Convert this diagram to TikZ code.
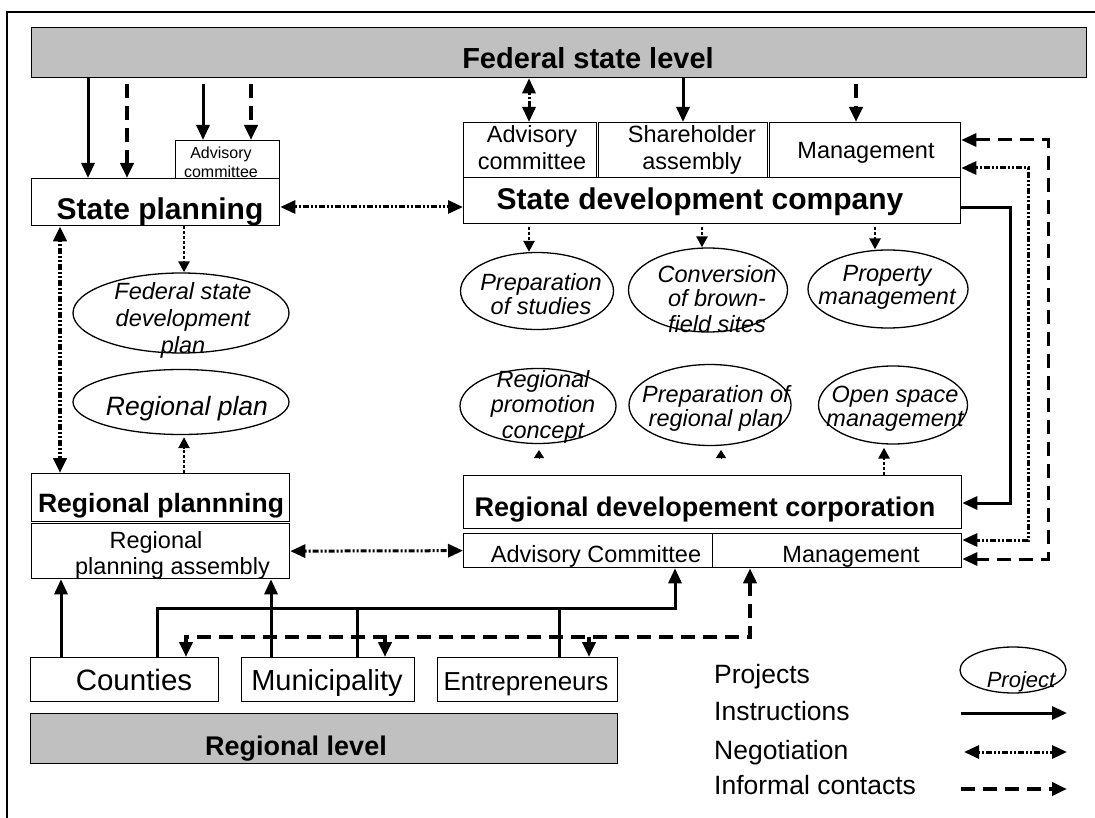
\documentclass[tikz,border=0pt]{standalone}
\usepackage{fontspec}
\setmainfont{Liberation Sans}
\usetikzlibrary{arrows.meta,shapes.geometric}
\definecolor{levelgray}{RGB}{192,192,192}

\tikzset{
  box/.style={draw,line width=1.3pt,fill=white,inner sep=0pt,anchor=north west},
  levelbar/.style={box,fill=levelgray},
  proj/.style={draw,ellipse,line width=1.3pt,inner sep=0pt},
  lbl/.style={inner sep=0pt,anchor=base,align=center},
  big/.style={lbl,font=\bfseries\fontsize{30}{34}\selectfont},
  mid/.style={lbl,font=\fontsize{23.5}{27.3}\selectfont},
  ptext/.style={lbl,font=\itshape\fontsize{23.5}{24}\selectfont},
  instr/.style={line width=3pt,->},
  nego/.style={line width=3pt,dash pattern=on 2pt off 2pt on 2pt off 2pt on 6pt off 2pt,<->},
  infor/.style={line width=4pt,dash pattern=on 14pt off 8pt,->},
  dotto/.style={line width=2.5pt,dash pattern=on 3pt off 2pt,-{Triangle[length=11pt,width=11pt]}},
  stub/.style={line width=1pt,-{Triangle[length=8pt,width=10pt]}},
}

\begin{document}
\begin{tikzpicture}[x=1pt,y=-1pt,>={Triangle[length=15pt,width=13pt]}]
\useasboundingbox (0,0) rectangle (1095,818);
\draw[line width=1.3pt] (7,818) -- (7,12) -- (1095,12);

% federal state level
\node[levelbar,minimum width=1055,minimum height=50] (fed) at (31,27) {};
\node[big,font=\bfseries\fontsize{29}{33}\selectfont] at (588,69) {Federal state level};

% state planning
\node[box,minimum width=104,minimum height=38] (spadv) at (175,140) {};
\node[lbl,font=\fontsize{16}{19}\selectfont] at (221,178) {Advisory\\committee};
\node[box,minimum width=248,minimum height=47] (sp) at (31,178) {};
\node[big] at (160,220) {State planning};

% state development company
\node[box,minimum width=133,minimum height=55] (sdcadv) at (463,122) {};
\node[box,minimum width=169,minimum height=55] (sdcsh) at (598,122) {};
\node[box,minimum width=191,minimum height=55] (sdcman) at (769,122) {};
\node[box,minimum width=497,minimum height=46] (sdc) at (463,177) {};
\node[mid] at (532,170) {Advisory\\committee};
\node[mid] at (692,170) {Shareholder\\assembly};
\node[mid] at (866,159) {Management};
\node[big] at (700,210) {State development company};

% projects of the company
\node[proj,minimum width=153,minimum height=77] (studies) at (537,291) {};
\node[ptext] at (541,315) {Preparation\\of studies};
\node[proj,minimum width=159,minimum height=84] (brown) at (708,290) {};
\node[ptext,font=\itshape\fontsize{23.5}{25}\selectfont] at (717,332) {Conversion\\of brown-\\field sites};
\node[proj,minimum width=160,minimum height=78] (property) at (888,289) {};
\node[ptext,font=\itshape\fontsize{23.5}{23}\selectfont] at (887,305) {Property\\management};

% plans
\node[proj,minimum width=216,minimum height=80] (fsdp) at (181,313) {};
\node[ptext,font=\itshape\fontsize{23.5}{27}\selectfont] at (183,353) {Federal state\\development\\plan};
\node[proj,minimum width=216,minimum height=65] (rplan) at (181,402) {};
\node[ptext,font=\itshape\fontsize{26.5}{30}\selectfont] at (187,415) {Regional plan};

% regional planning
\node[box,minimum width=258,minimum height=48] (rp) at (31,473) {};
\node[lbl,font=\bfseries\fontsize{26.5}{30}\selectfont] at (161,512) {Regional plannning};
\node[box,minimum width=258,minimum height=55] (rpa) at (31,523) {};
\node[mid,font=\fontsize{23.5}{26}\selectfont] at (172.5,574) {Regional\hspace*{33pt}\\planning assembly};

% projects of the corporation
\node[proj,minimum width=156,minimum height=75] (promo) at (538,406) {};
\node[ptext,font=\itshape\fontsize{23.5}{25.5}\selectfont] at (543,438) {Regional\\promotion\\concept};
\node[proj,minimum width=162,minimum height=81] (rplanprep) at (710,405) {};
\node[ptext] at (716,426) {Preparation of\\regional plan};
\node[proj,minimum width=149,minimum height=78] (openspace) at (893,405) {};
\node[ptext] at (895,426) {Open space\\management};

% regional development corporation
\node[box,minimum width=498,minimum height=53] (rdc) at (463,475) {};
\node[lbl,font=\bfseries\fontsize{27}{31}\selectfont] at (705,516) {Regional developement corporation};
\node[box,minimum width=249,minimum height=34] (rdcadv) at (463,533) {};
\node[box,minimum width=249,minimum height=34] (rdcman) at (712,533) {};
\node[mid] at (596,562) {Advisory Committee};
\node[mid] at (851,562) {Management};

% regional level
\node[box,minimum width=188,minimum height=44] (counties) at (30,657) {};
\node[box,minimum width=173,minimum height=44] (munic) at (241,657) {};
\node[box,minimum width=180,minimum height=44] (entre) at (437,657) {};
\node[lbl,font=\fontsize{29.5}{34}\selectfont] at (134,690) {Counties};
\node[lbl,font=\fontsize{29}{33}\selectfont] at (327,690) {Municipality};
\node[lbl,font=\fontsize{26}{30}\selectfont] at (526,690) {Entrepreneurs};
\node[levelbar,minimum width=587,minimum height=50] (reg) at (30,713) {};
\node[lbl,font=\bfseries\fontsize{27}{31}\selectfont] at (296,755) {Regional level};

% legend
\node[lbl,anchor=base west,font=\fontsize{26.5}{30}\selectfont] at (714,683) {Projects};
\node[lbl,anchor=base west,font=\fontsize{26.5}{30}\selectfont] at (714,720) {Instructions};
\node[lbl,anchor=base west,font=\fontsize{26.5}{30}\selectfont] at (714,759) {Negotiation};
\node[lbl,anchor=base west,font=\fontsize{26.5}{30}\selectfont] at (714,794) {Informal contacts};
\node[proj,minimum width=106,minimum height=46] (legproj) at (1013,670) {};
\node[ptext,font=\itshape\fontsize{22}{26}\selectfont] at (1021,687) {Project};
\coordinate (ia) at (961,713); \coordinate (ib) at (1067,713);
\coordinate (na) at (964,752); \coordinate (nb) at (1067,752);
\coordinate (fa) at (961,789); \coordinate (fb) at (1067,789);
\draw[instr] (ia) -- (ib);
\draw[nego] (na) -- (nb);
\draw[infor] (fa) -- (fb);

% federal state level downwards
\draw[instr] (fed.south -| 88,0) -- (sp.north -| 88,0);
\draw[infor,shorten <=6pt] (fed.south -| 127,0) -- (sp.north -| 127,0);
\draw[instr,shorten <=6pt] (fed.south -| 203,0) -- (spadv.north -| 203,0);
\draw[infor,shorten <=6pt] (fed.south -| 251,0) -- (spadv.north -| 251,0);
\draw[nego] (fed.south -| 529,0) -- (sdcadv.north -| 529,0);
\draw[instr] (fed.south -| 683,0) -- (sdcsh.north -| 683,0);
\draw[infor,shorten <=6pt] (fed.south -| 856,0) -- (sdcman.north -| 856,0);

% planning side
\draw[nego] (sp.east |- 0,207) -- (sdc.west |- 0,207);
\draw[nego,line width=4pt] (sp.south -| 60,0) -- (rp.north -| 60,0);
\draw[nego] (rpa.east) -- (rdcadv.west);
\draw[dotto] (sp.south -| 184,0) -- (fsdp.north -| 184,0);
\draw[dotto,shorten >=2pt] (rp.north -| 184,0) -- (rplan.south -| 184,0);

% company and corporation projects
\draw[dotto,shorten <=3pt] (sdc.south -| 529,0) -- (studies.north -| 529,0);
\draw[dotto,shorten <=3pt] (sdc.south -| 702,0) -- (brown.north -| 702,0);
\draw[dotto,shorten <=3pt] (sdc.south -| 875,0) -- (property.north -| 875,0);
\draw[dotto,shorten >=3pt] (rdc.north -| 884,0) -- (openspace.south -| 884,0);
\coordinate (t1) at (539,458); \coordinate (t2) at (721,458);
\draw[stub] (t1) -- ++(0,-8);
\draw[stub] (t2) -- ++(0,-8);

% company to corporation
\draw[instr] (sdc.east |- 0,208) -- (1010,208) -- (1010,503) -- (rdc.east |- 0,503);
\draw[nego] (sdcman.east |- 0,168) -- (1028,168) -- (1028,540) -- (rdcman.east |- 0,540);
\draw[infor,<->,line width=3pt] (sdcman.east |- 0,140) -- (1048,140) -- (1048,559) -- (rdcman.east |- 0,559);

% regional level upwards
\draw[instr] (counties.north -| 61,0) -- (rpa.south -| 61,0);
\draw[instr] (munic.north -| 271,0) -- (rpa.south -| 271,0);
\draw[instr] (counties.north -| 157,0) |- (675,608) -- (rdcadv.south -| 675,0);
\draw[line width=3pt] (munic.north -| 357,0) -- (357,608);
\draw[line width=3pt] (entre.north -| 559,0) -- (559,608);
\draw[infor,<->] (rdcman.south -| 750,0) |- (186,637) -- (counties.north -| 186,0);
\draw[infor] (385,637) -- (munic.north -| 385,0);
\draw[infor] (589,637) -- (entre.north -| 589,0);

\end{tikzpicture}
\end{document}
